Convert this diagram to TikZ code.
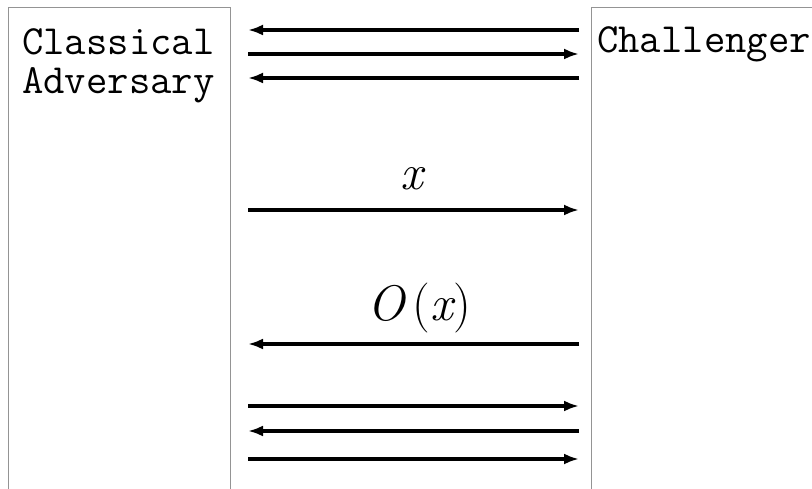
\documentclass[tikz,border=0pt]{standalone}
\usepackage{fontspec}
\usetikzlibrary{arrows.meta}
\begin{document}
\begin{tikzpicture}[x=1pt,y=-1pt,
  party/.style={draw=black!42,line width=1.1pt,inner sep=0pt,anchor=north west},
  msg/.style={line width=3.4pt,-{Latex[length=15pt,width=11pt]}},
  lbl/.style={font=\ttfamily\fontsize{41.5}{40}\selectfont,anchor=base west,inner sep=0pt},
  mlab/.style={font=\fontsize{50}{50}\selectfont,inner sep=0pt,anchor=base}]
\useasboundingbox (0,0) rectangle (812,489);
\clip (0,0) rectangle (812,489);
\node[party,minimum width=222pt,minimum height=520pt] (adv) at (8,7) {};
\node[party,minimum width=260pt,minimum height=520pt] (chal) at (590.5,7) {};
\node[lbl] (t1) at (22,55) {Classical};
\node[lbl] (t2) at (22,94) {Adversary};
\node[lbl] (t3) at (597,53) {Challenger};
\foreach \i/\y in {1/30,2/54,3/78,4/210,5/344,6/406,7/431,8/459}{
  \coordinate (L\i) at (248,\y);
  \coordinate (R\i) at (579,\y);
}
\draw[msg] (R1) -- (L1);
\draw[msg] (L2) -- (R2);
\draw[msg] (R3) -- (L3);
\draw[msg] (L4) -- (R4);
\draw[msg] (R5) -- (L5);
\draw[msg] (L6) -- (R6);
\draw[msg] (R7) -- (L7);
\draw[msg] (L8) -- (R8);
\node[mlab] (mx) at (412,190) {\itshape x};
\node[mlab] (mo) at (419,321) {{\itshape O}\,({\itshape x})};
\end{tikzpicture}
\end{document}
